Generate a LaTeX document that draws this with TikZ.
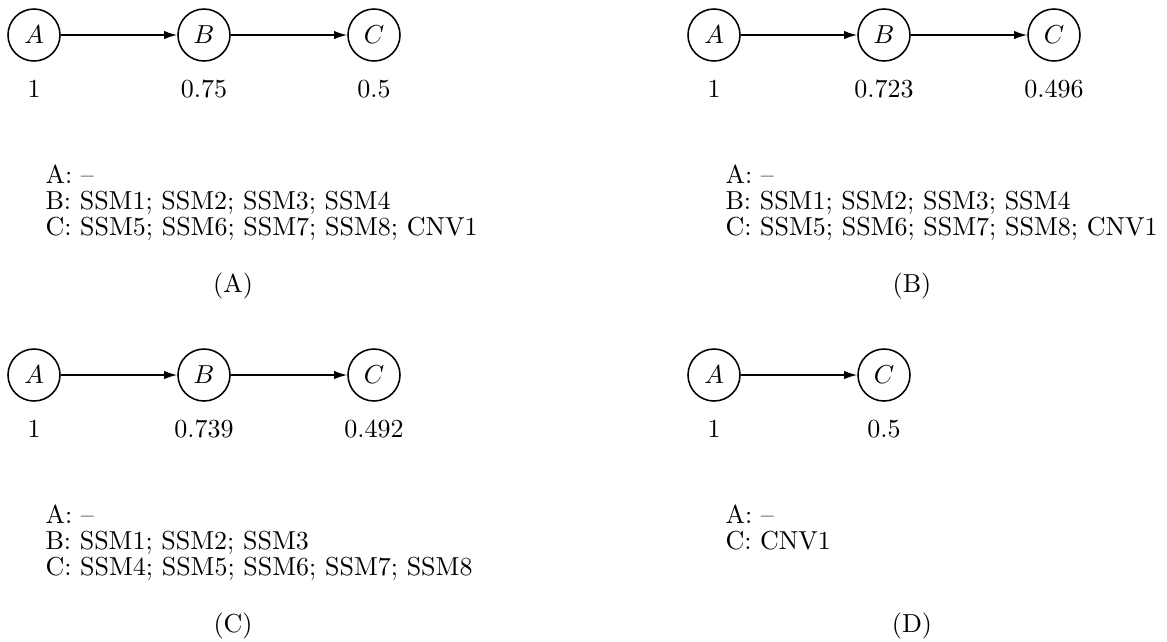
\documentclass[tikz,border=0pt]{standalone}
\usetikzlibrary{arrows.meta}

\begin{document}
\begin{tikzpicture}[
  x=0.3846pt, y=-0.3846pt,
  state/.style={draw, circle, minimum size=20pt, inner sep=0pt, line width=0.6pt},
  arr/.style={line width=0.6pt, -{Latex[length=5pt,width=3.2pt]}},
  val/.style={anchor=base, inner sep=0pt},
  info/.style={anchor=base west, inner sep=0pt},
  subcap/.style={anchor=base, inner sep=0pt}
]
\useasboundingbox (0,0) rectangle (1167,641);

% ---- (A) ----
\node[state] (aA) at (34,35)  {$A$};
\node[state] (aB) at (204,35) {$B$};
\node[state] (aC) at (374,35) {$C$};
\draw[arr] (aA) -- (aB);
\draw[arr] (aB) -- (aC);
\node[val] (aAv) at (34,97)  {1};
\node[val] (aBv) at (204,97) {0.75};
\node[val] (aCv) at (374,97) {0.5};
\node[info] (aL1) at (45,183) {A: --};
\node[info] (aL2) at (45,209) {B: SSM1; SSM2; SSM3; SSM4};
\node[info] (aL3) at (45,235) {C: SSM5; SSM6; SSM7; SSM8; CNV1};
\node[subcap] (acap) at (233,292) {(A)};

% ---- (B) ----
\node[state] (bA) at (714,35)  {$A$};
\node[state] (bB) at (884,35)  {$B$};
\node[state] (bC) at (1054,35) {$C$};
\draw[arr] (bA) -- (bB);
\draw[arr] (bB) -- (bC);
\node[val] (bAv) at (714,97)  {1};
\node[val] (bBv) at (884,97)  {0.723};
\node[val] (bCv) at (1054,97) {0.496};
\node[info] (bL1) at (725,183) {A: --};
\node[info] (bL2) at (725,209) {B: SSM1; SSM2; SSM3; SSM4};
\node[info] (bL3) at (725,235) {C: SSM5; SSM6; SSM7; SSM8; CNV1};
\node[subcap] (bcap) at (912,292) {(B)};

% ---- (C) ----
\node[state] (cA) at (34,375)  {$A$};
\node[state] (cB) at (204,375) {$B$};
\node[state] (cC) at (374,375) {$C$};
\draw[arr] (cA) -- (cB);
\draw[arr] (cB) -- (cC);
\node[val] (cAv) at (34,437)  {1};
\node[val] (cBv) at (204,437) {0.739};
\node[val] (cCv) at (374,437) {0.492};
\node[info] (cL1) at (45,523) {A: --};
\node[info] (cL2) at (45,549) {B: SSM1; SSM2; SSM3};
\node[info] (cL3) at (45,575) {C: SSM4; SSM5; SSM6; SSM7; SSM8};
\node[subcap] (ccap) at (233,632) {(C)};

% ---- (D) ----
\node[state] (dA) at (714,375) {$A$};
\node[state] (dC) at (884,375) {$C$};
\draw[arr] (dA) -- (dC);
\node[val] (dAv) at (714,437) {1};
\node[val] (dCv) at (884,437) {0.5};
\node[info] (dL1) at (725,523) {A: --};
\node[info] (dL2) at (725,549) {C: CNV1};
\node[subcap] (dcap) at (912,632) {(D)};
\end{tikzpicture}
\end{document}
